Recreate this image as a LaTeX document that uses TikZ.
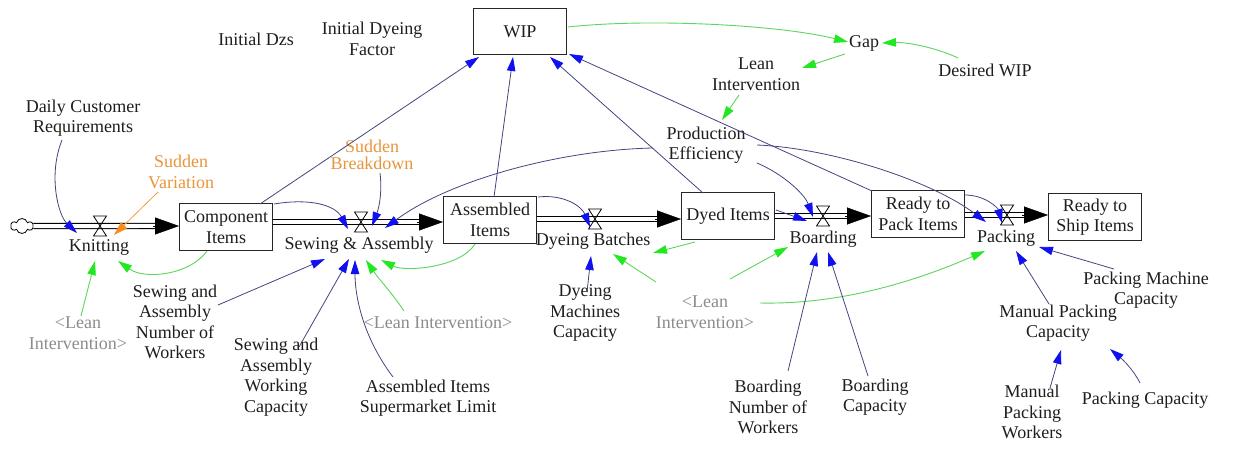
\documentclass[tikz,border=0pt]{standalone}
\usepackage{fontspec}
\setmainfont{Liberation Serif}
\usetikzlibrary{arrows.meta,calc,shapes.symbols}
\definecolor{linkc}{HTML}{45457F}
\definecolor{headb}{HTML}{1010F0}
\definecolor{greenl}{HTML}{5CD65C}
\definecolor{greenh}{HTML}{22E822}
\definecolor{orangel}{HTML}{F0A040}
\definecolor{orangeh}{HTML}{F58A1F}
\definecolor{oranget}{HTML}{E8963C}
\definecolor{grayt}{HTML}{8C8C8C}
\definecolor{txt}{HTML}{1E1E1E}
\begin{document}
\begin{tikzpicture}[x=1pt,y=-1pt,
  every node/.style={font=\fontsize{18}{20.5}\selectfont, align=center, text=txt, inner sep=1pt},
  box/.style={draw=black!85, line width=1pt, minimum width=93pt, minimum height=46pt, inner sep=2pt},
  lnk/.style={draw=linkc, line width=0.8pt, -{Triangle[length=14pt,width=8.5pt,color=headb]}},
  glnk/.style={draw=greenl, line width=0.9pt, -{Triangle[length=14pt,width=8.5pt,color=greenh]}},
  olnk/.style={draw=orangel, line width=0.8pt, -{Triangle[length=14pt,width=8.5pt,color=orangeh]}},
  pipe/.style={draw=black, line width=1.1pt, double=white, double distance=4pt},
  pipehd/.style={draw=black, line width=0.4pt, -{Triangle[length=24pt,width=17pt]}},
  valvest/.style={draw=black, line width=0.8pt},
  ghost/.style={text=grayt},
  orng/.style={text=oranget}]
\useasboundingbox[fill=white] (0,0) rectangle (1250,449);

% ---- stocks ----
\node[box] (wip) at (520,32) {WIP};
\node[box] (ci) at (226,227) {Component\\Items};
\node[box] (ai) at (490,220) {Assembled\\Items};
\node[box] (di) at (728,216) {Dyed Items};
\node[box] (rp) at (918,214) {Ready to\\Pack Items};
\node[box] (rs) at (1095,217) {Ready to\\Ship Items};

% ---- valves ----
\coordinate (kv) at (100,226);
\coordinate (sav) at (361,222);
\coordinate (dbv) at (595,219);
\coordinate (bv) at (823,216);
\coordinate (pv) at (1007,215);

\node[cloud, draw, cloud puffs=6, aspect=1.6, minimum width=22pt, minimum height=15pt, inner sep=0pt, line width=0.8pt] (cloud) at (22,226) {};

% ---- pipes ----
\draw[pipe] (cloud.east) -- ($(ci.west |- kv)+(-16,0)$);
\draw[pipehd] ($(ci.west |- kv)+(-26,0)$) -- (ci.west |- kv);
\draw[pipe] (ci.east |- sav) -- ($(ai.west |- sav)+(-16,0)$);
\draw[pipehd] ($(ai.west |- sav)+(-26,0)$) -- (ai.west |- sav);
\draw[pipe] (ai.east |- dbv) -- ($(di.west |- dbv)+(-16,0)$);
\draw[pipehd] ($(di.west |- dbv)+(-26,0)$) -- (di.west |- dbv);
\draw[pipe] (di.east |- bv) -- ($(rp.west |- bv)+(-16,0)$);
\draw[pipehd] ($(rp.west |- bv)+(-26,0)$) -- (rp.west |- bv);
\draw[pipe] (rp.east |- pv) -- ($(rs.west |- pv)+(-16,0)$);
\draw[pipehd] ($(rs.west |- pv)+(-26,0)$) -- (rs.west |- pv);

\foreach \v in {kv,sav,dbv,bv,pv}{
  \draw[valvest] (\v) +(-6.5,-10) -- +(6.5,-10) -- +(-6.5,10) -- +(6.5,10) -- cycle;
}

% ---- flow labels ----
\node (knit) at (99,247) {Knitting};
\node (sa) at (359,245) {Sewing \& Assembly};
\node (db) at (593,241) {Dyeing Batches};
\node (bo) at (823,239) {Boarding};
\node (pk) at (1006,238) {Packing};

% ---- auxiliaries ----
\node (dcr) at (83,118) {Daily Customer\\Requirements};
\node[orng] (sv) at (181,172) {Sudden\\Variation};
\node[orng, font=\fontsize{18}{16.5}\selectfont] (sb) at (372,155) {Sudden\\Breakdown};
\node (idz) at (256,39) {Initial Dzs};
\node (idf) at (372,39) {Initial Dyeing\\Factor};
\node (gap) at (864,43) {Gap};
\node (dwip) at (985,70) {Desired WIP};
\node (li) at (756,74) {Lean\\Intervention};
\node (pe) at (706,145) {Production\\Efficiency};
\node[ghost] (lil) at (78,333) {<Lean\\Intervention>};
\node (sanw) at (175,322) {Sewing and\\Assembly\\Number of\\Workers};
\node (sawc) at (276,377) {Sewing and\\Assembly\\Working\\Capacity};
\node (aisl) at (428,398) {Assembled Items\\Supermarket Limit};
\node[ghost] (lim) at (438,323) {<Lean Intervention>};
\node (dmc) at (585,313) {Dyeing\\Machines\\Capacity};
\node[ghost] (lir) at (705,312) {<Lean\\Intervention>};
\node (bnw) at (768,407) {Boarding\\Number of\\Workers};
\node (bc) at (875,397) {Boarding\\Capacity};
\node (mpc) at (1058,323) {Manual Packing\\Capacity};
\node (pmc) at (1146,290) {Packing Machine\\Capacity};
\node (mpw) at (1032,412) {Manual\\Packing\\Workers};
\node (pc) at (1145,400) {Packing Capacity};

% ---- causal links ----
\draw[lnk] ($(dcr)+(-21,22)$) .. controls +(-14,35) and +(-19,-18) .. ($(kv)+(-23,7)$);
\draw[olnk] ($(sv)+(-23,20)$) -- ($(kv)+(14,9)$);
\draw[glnk] ($(ci)+(-19,24)$) .. controls +(-17,24) and +(27,19) .. ($(knit)+(19,14)$);
\draw[glnk] ($(lil)+(3,-17)$) -- ($(knit)+(-4,14)$);
\draw[lnk] ($(ci)+(34,-23)$) -- ($(wip)+(-41,25)$);
\draw[lnk] ($(ci)+(48,-23)$) .. controls +(36,-6) and +(-13,-24) .. ($(sav)+(-13,7)$);
\draw[lnk] ($(sb)+(8,18)$) .. controls +(2,16) and +(8,-21) .. ($(sav)+(11,4)$);
\draw[lnk] ($(pe)+(-53,3)$) .. controls +(-93,2) and +(65,-48) .. ($(sav)+(24,6)$);
\draw[lnk] ($(ai)+(4,-23)$) -- ($(wip)+(-7,25)$);
\draw[lnk] ($(di)+(-25,-23)$) -- ($(wip)+(30,25)$);
\draw[lnk] ($(rp)+(-46,-23)$) -- ($(wip)+(49,22)$);
\draw[lnk] ($(pe)+(51,18)$) .. controls +(28,12) and +(-8,-22) .. ($(bv)+(-10,1)$);
\draw[lnk] ($(di)+(48,-6)$) -- ($(bv)+(-16,5)$);
\draw[lnk] ($(pe)+(51,0)$) .. controls +(73,3) and +(-56,-42) .. ($(pv)+(-21,7)$);
\draw[lnk] ($(rp)+(47,-19)$) .. controls +(20,0) and +(-4,-15) .. ($(pv)+(-5,8)$);
\draw[glnk] ($(di)+(-33,26)$) -- ($(db)+(60,12)$);
\draw[lnk] ($(ai)+(48,-23)$) .. controls +(27,-3) and +(-8,-20) .. ($(dbv)+(-5,8)$);
\draw[glnk] ($(ai)+(-15,24)$) .. controls +(-15,24) and +(24,12) .. ($(sa)+(22,15)$);
\draw[lnk] ($(dmc)+(2,-21)$) -- ($(db)+(-2,15)$);
\draw[glnk] ($(lir)+(-49,-30)$) -- ($(db)+(20,13)$);
\draw[glnk] ($(lir)+(25,-33)$) -- ($(bo)+(-35,8)$);
\draw[glnk] ($(lir)+(55,-9)$) .. controls +(90,2) and +(-55,24) .. ($(pk)+(-21,13)$);
\draw[lnk] ($(bnw)+(20,-36)$) -- ($(bo)+(-6,13)$);
\draw[lnk] ($(bc)+(-7,-21)$) -- ($(bo)+(5,13)$);
\draw[lnk] ($(mpc)+(-9,-19)$) -- ($(pk)+(10,13)$);
\draw[lnk] ($(pmc)+(-32,-21)$) -- ($(pk)+(33,9)$);
\draw[lnk] ($(mpw)+(18,-24)$) -- ($(mpc)+(3,27)$);
\draw[lnk] ($(pc)+(-5,-17)$) .. controls +(-7,-14) and +(12,10) .. ($(mpc)+(52,26)$);
\draw[lnk] ($(sanw)+(43,-17)$) -- ($(sa)+(-34,14)$);
\draw[lnk] ($(sawc)+(23,-30)$) -- ($(sa)+(-10,14)$);
\draw[lnk] ($(aisl)+(-35,-21)$) .. controls +(-28,-37) and +(0,40) .. ($(sa)+(-4,15)$);
\draw[glnk] ($(lim)+(-34,-12)$) .. controls +(-12,-18) and +(12,18) .. ($(sa)+(7,15)$);
\draw[glnk] ($(wip)+(48,-5)$) .. controls +(82,-9) and +(-68,-17) .. ($(gap)+(-16,-1)$);
\draw[glnk] ($(dwip)+(-27,-12)$) .. controls +(-23,-11) and +(23,-1) .. ($(gap)+(18,0)$);
\draw[glnk] ($(gap)+(-19,11)$) -- ($(li)+(46,-6)$);
\draw[glnk] ($(li)+(-17,21)$) -- ($(pe)+(16,-25)$);
\end{tikzpicture}
\end{document}
